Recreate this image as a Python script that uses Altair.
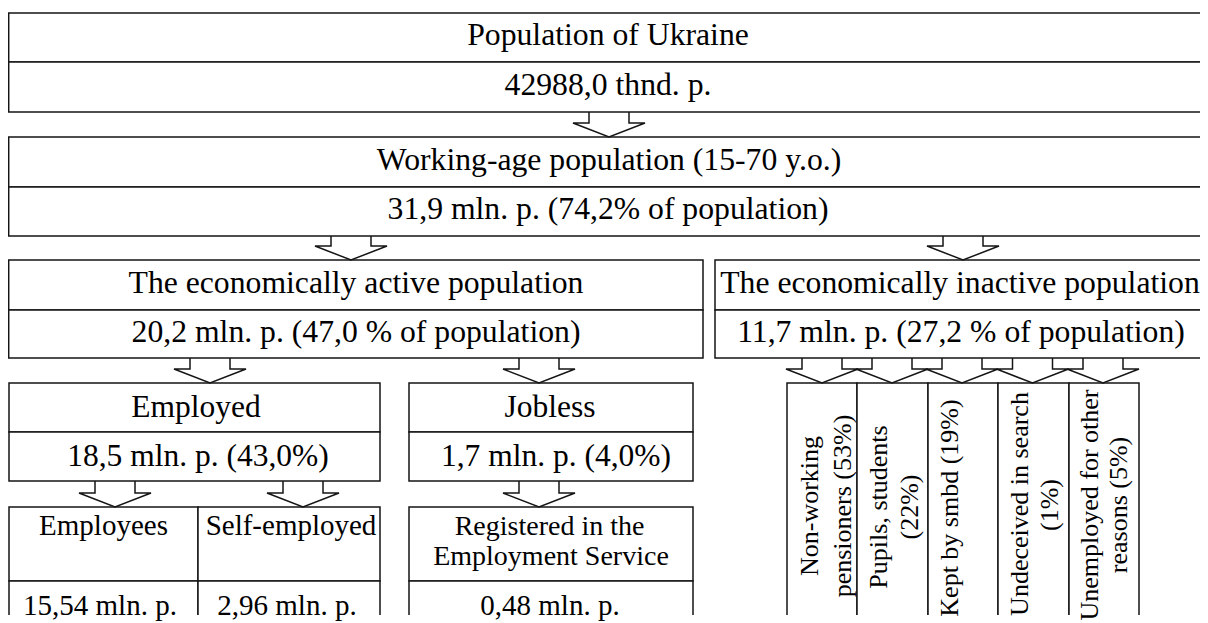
import altair as alt
import pandas as pd

# ---- box cells (left, right, top, bottom) in diagram units ----
cell_x1 = [8.7, 8.7, 8.7, 8.7, 8.7, 8.7, 715, 715, 9, 9, 409, 409,
           9, 9, 198, 198, 409, 409, 787, 857, 928, 998, 1069]
cell_x2 = [1230, 1230, 1230, 1230, 703, 703, 1230, 1230, 380, 380, 693, 693,
           198, 198, 380, 380, 693, 693, 857, 928, 998, 1069, 1139]
cell_y1 = [13, 62, 137, 187, 260, 310, 260, 310, 383, 432, 383, 432,
           507, 581, 507, 581, 507, 581, 383, 383, 383, 383, 383]
cell_y2 = [62, 112, 187, 236, 310, 358, 310, 358, 432, 481, 432, 481,
           581, 640, 581, 640, 581, 640, 640, 640, 640, 640, 640]

# ---- block arrows: centre, start (box bottom), tip (next box top) ----
arrow_cx = [609, 351, 963, 210, 539, 822, 892, 962, 1032.5, 1103, 115, 303, 539]
arrow_y1 = [112, 236, 236, 358, 358, 358, 358, 358, 358, 358, 481, 481, 481]
arrow_y2 = [137, 260, 260, 383, 383, 383, 383, 383, 383, 383, 507, 507, 507]
shaft_half = 20
head_half = 36
head_len = 14

# ---- horizontal labels ----
h_text = ["Population of Ukraine", "42988,0 thnd. p.",
          "Working-age population (15-70 y.o.)", "31,9 mln. p. (74,2% of population)",
          "The economically active population", "20,2 mln. p. (47,0 % of population)",
          "The economically inactive population", "11,7 mln. p. (27,2 % of population)",
          "Employed", "18,5 mln. p. (43,0%)", "Jobless", "1,7 mln. p. (4,0%)",
          "Employees", "Self-employed", "Registered in the", "Employment Service",
          "15,54 mln. p.", "2,96 mln. p.", "0,48 mln. p."]
h_x = [608, 608, 609, 608, 356, 356, 960, 961, 196, 198, 550, 556,
       103.5, 291, 549.5, 551, 100, 287, 550]
h_y = [45, 95, 170, 219, 293, 342, 293, 342, 417, 466, 417, 466,
       535, 535, 535, 565, 615, 615, 615]
h_size = [31.7, 31.7, 31.7, 31.7, 31.7, 31.7, 31.7, 31.7, 31.5, 31.5, 31.5, 31.5,
          29, 29, 28, 28, 29, 29, 29]

# ---- vertical labels (inactive population structure) ----
v_text = ["Non-working", "pensioners (53%)", "Pupils, students", "(22%)",
          "Kept by smbd (19%)", "Undeceived in search", "(1%)",
          "Unemployed for other", "reasons (5%)"]
v_x = [818, 851, 887, 918, 958, 1028, 1058, 1098, 1127]
v_y = [506, 506, 507, 507, 508, 504, 505, 505, 505]
v_size = 26

LINE = "#151515"
SW = 1.5
FONT = "Liberation Serif, Times New Roman, DejaVu Serif, serif"

cells = pd.DataFrame({"x1": cell_x1, "x2": cell_x2, "y1": cell_y1, "y2": cell_y2})

rows = []
for i, (cx, a, b) in enumerate(zip(arrow_cx, arrow_y1, arrow_y2)):
    hb = b - head_len
    pts = [(cx - shaft_half, a), (cx - shaft_half, hb), (cx - head_half, hb),
           (cx, b), (cx + head_half, hb), (cx + shaft_half, hb), (cx + shaft_half, a)]
    for k, (px, py) in enumerate(pts):
        rows.append({"id": i, "k": k, "x": px, "y": py})
arrows = pd.DataFrame(rows)

htexts = pd.DataFrame({"t": h_text, "x": h_x, "y": h_y, "fs": h_size})
vtexts = pd.DataFrame({"t": v_text, "x": v_x, "y": v_y})

xs = alt.Scale(domain=[8, 1200], nice=False, zero=False)
ys = alt.Scale(domain=[8, 615], nice=False, zero=False, reverse=True)

rect_layer = alt.Chart(cells).mark_rect(
    fill="white", stroke=LINE, strokeWidth=SW, clip=True
).encode(
    x=alt.X("x1:Q", scale=xs, axis=None), x2="x2:Q",
    y=alt.Y("y1:Q", scale=ys, axis=None), y2="y2:Q",
)

arrow_layer = alt.Chart(arrows).mark_line(
    color=LINE, strokeWidth=SW, clip=True, strokeJoin="miter"
).encode(
    x=alt.X("x:Q", scale=xs, axis=None),
    y=alt.Y("y:Q", scale=ys, axis=None),
    detail="id:N",
    order="k:Q",
)

htext_layer = alt.Chart(htexts).mark_text(
    font=FONT, align="center", baseline="alphabetic", color="black"
).encode(
    x=alt.X("x:Q", scale=xs, axis=None),
    y=alt.Y("y:Q", scale=ys, axis=None),
    text="t:N",
    size=alt.Size("fs:Q", scale=None),
)

vtext_layer = alt.Chart(vtexts).mark_text(
    font=FONT, align="center", baseline="alphabetic", color="black",
    angle=270, fontSize=v_size
).encode(
    x=alt.X("x:Q", scale=xs, axis=None),
    y=alt.Y("y:Q", scale=ys, axis=None),
    text="t:N",
)

chart = alt.layer(rect_layer, arrow_layer, htext_layer, vtext_layer).properties(
    width=1192, height=607, padding=0, background="white"
).configure_view(stroke=None)

chart.save("out.html", embed_options={"renderer": "svg", "actions": False})
